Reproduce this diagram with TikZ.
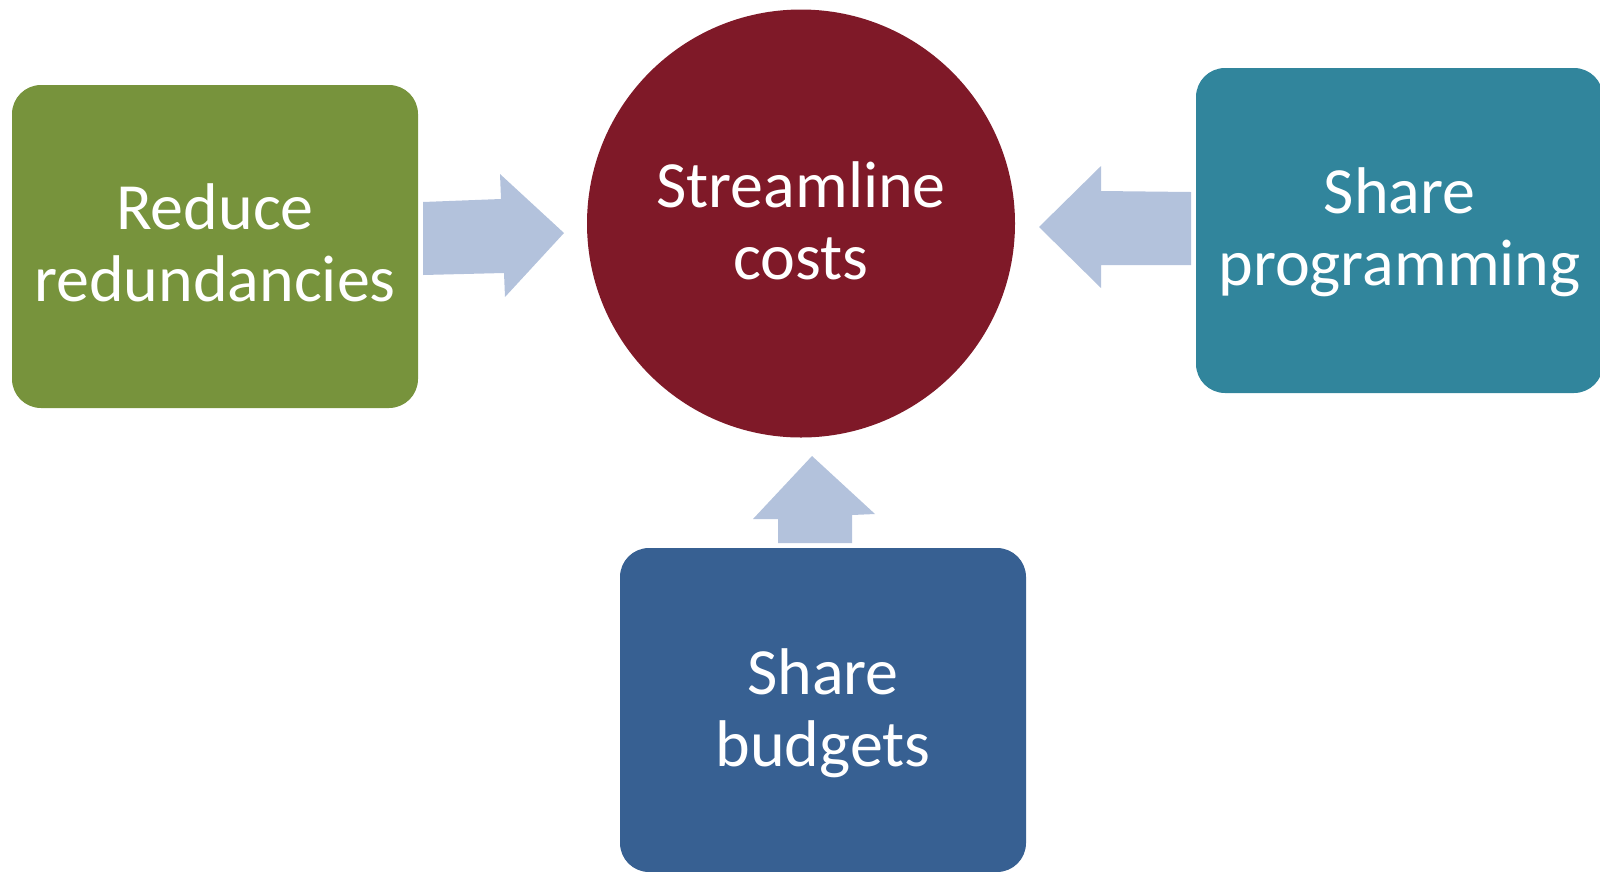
\documentclass[tikz,border=0pt]{standalone}
\usepackage{fontspec}
\setmainfont{Carlito}
\definecolor{cgreen}{HTML}{77933C}
\definecolor{cred}{HTML}{7F1928}
\definecolor{cteal}{HTML}{31859C}
\definecolor{cblue}{HTML}{376092}
\definecolor{carrow}{HTML}{B3C2DC}
\begin{document}
\begin{tikzpicture}[x=1pt,y=-1pt,
  box/.style={rectangle, rounded corners=29pt, minimum width=406pt, minimum height=323pt,
    inner sep=0pt},
  hub/.style={circle, minimum size=428pt, inner sep=0pt, fill=cred},
  lbl/.style={inner sep=0pt, text=white, align=center, font=\fontsize{66}{72}\selectfont},
  blockarrow/.style={fill=carrow}]
\useasboundingbox (0,0) rectangle (1600,871);
\node[box, fill=cgreen] (reduce) at (215,246.5) {};
\node[hub] (stream) at (801,223.5) {};
\node[box, fill=cteal, minimum width=407pt, minimum height=325pt] (prog) at (1399.5,230.5) {};
\node[box, fill=cblue, minimum height=324pt] (budget) at (823,710) {};
\node[lbl, yshift=4pt] (reducet) at (reduce.center) {Reduce\\redundancies};
\node[lbl, yshift=3pt] (streamt) at (stream.center) {Streamline\\costs};
\node[lbl, yshift=-2pt] (progt) at (prog.center) {Share\\programming};
\node[lbl, yshift=-3pt] (budgett) at (budget.center) {Share\\budgets};
% block arrows
\fill[blockarrow] (423,202) -- (501,199) -- (500,174) -- (564,233) -- (505,297) -- (504,273) -- (423,275) -- cycle;
\fill[blockarrow] (1039,227) -- (1101,166) -- (1101,191) -- (1191,192) -- (1191,265) -- (1101,265) -- (1101,288) -- cycle;
\fill[blockarrow] (812,456) -- (875,514) -- (852,515) -- (852,543) -- (778,543) -- (778,519) -- (753,519) -- cycle;
\end{tikzpicture}
\end{document}
